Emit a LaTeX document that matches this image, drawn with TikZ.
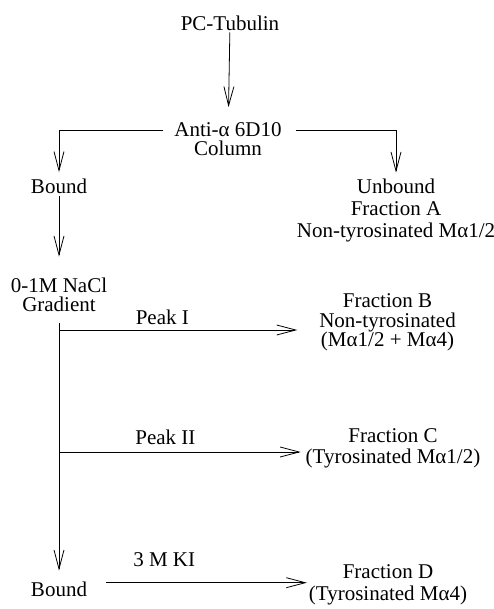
\documentclass[tikz,border=0pt]{standalone}
\usepackage{fontspec}
\setmainfont{Liberation Serif}
\usetikzlibrary{arrows.meta}
\lineskiplimit=-20pt

\begin{document}
\begin{tikzpicture}[x=1pt,y=-1pt]
  \tikzstyle{lbl}=[inner sep=2pt,outer sep=0pt,align=center,font=\fontsize{21}{19.5}\selectfont]
  \tikzstyle{f}=[-{Straight Barb[length=19pt,width=10pt]},line width=0.8pt]
  \useasboundingbox (0,0) rectangle (494,609);

  % -- tubulin onto the column --
  \node[lbl] (tub) at (230,22.9) {PC-Tubulin};
  \node[lbl,font=\fontsize{21}{19}\selectfont] (anti) at (228,139.4) {Anti-α 6D10\\Column};
  \draw[f,shorten >=13.7pt] (tub) -- (anti);

  % -- bound / unbound --
  \node[lbl] (bnd) at (59,186.5) {Bound};
  \node[lbl,font=\fontsize{21}{22}\selectfont] (unb) at (396,210.1) {Unbound\\Fraction A\\Non-tyrosinated Mα1/2};
  \draw[f,shorten <=9pt,shorten >=5pt] ([yshift=9pt]anti.west) -| (bnd);
  \draw[f,shorten <=12pt,shorten >=4pt] ([yshift=9pt]anti.east) -| (unb);

  % -- salt gradient --
  \node[lbl,font=\fontsize{21}{19}\selectfont] (grad) at (59,294.4) {0-1M NaCl\\Gradient};
  \draw[f,shorten >=19pt] (bnd) -- (grad);
  \node[lbl] (bnd2) at (59,588.9) {Bound};
  \draw[f,shorten <=10pt,shorten >=9pt] (grad) -- (bnd2);

  % -- peaks off the gradient --
  \coordinate (pk1) at (59,330);
  \coordinate (pk2) at (59,452);
  \node[lbl] (fracB) at (387.5,322.7) {Fraction B\\Non-tyrosinated\\(Mα1/2 + Mα4)};
  \node[lbl,font=\fontsize{21}{21}\selectfont] (fracC) at (393,448.7) {Fraction C\\(Tyrosinated Mα1/2)};
  \node[lbl,font=\fontsize{21}{22}\selectfont] (fracD) at (388,584.7) {Fraction D\\(Tyrosinated Mα4)};
  \draw[f,shorten >=20pt] (pk1) -- node[lbl,above=3pt,pos=.4]{Peak I} (pk1 -| fracB.west);
  \draw[f,shorten >=3pt] (pk2) -- node[lbl,above=5pt,pos=.435]{Peak II} (pk2 -| fracC.west);

  % -- KI elution --
  \draw[f,shorten <=17pt] ([yshift=6.2pt]bnd2.east) -- node[lbl,above=14pt,pos=.345]{3 M KI} ([yshift=6.2pt]bnd2.east -| fracD.west);
\end{tikzpicture}
\end{document}
